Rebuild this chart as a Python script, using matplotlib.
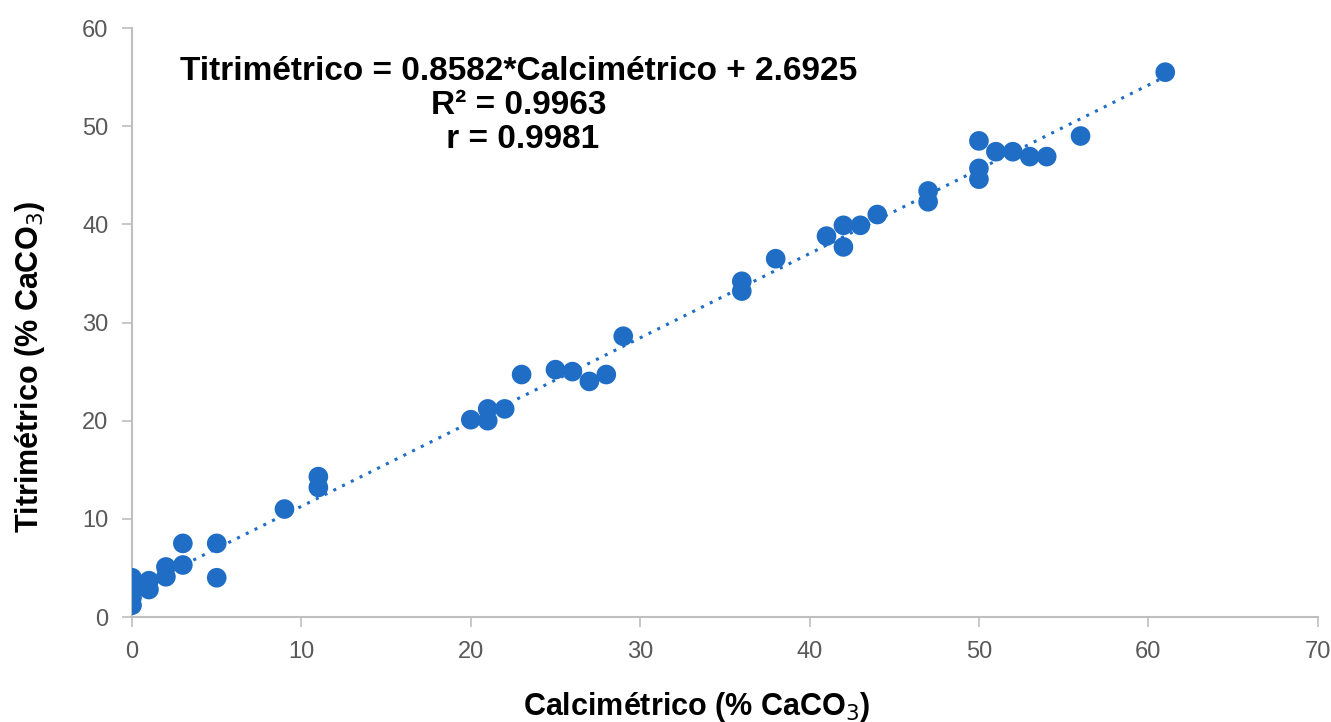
import numpy as np
import matplotlib.pyplot as plt

plt.rcParams['font.family'] = ['Liberation Sans', 'DejaVu Sans']

# datos
calcimetrico = [0, 0, 0, 0, 1, 1, 2, 2, 3, 3, 5, 5, 9, 11, 11,
                20, 21, 21, 22, 23, 25, 26, 27, 28, 29,
                36, 36, 38, 41, 42, 42, 43, 44, 47, 47,
                50, 50, 50, 51, 52, 53, 54, 56, 61]
titrimetrico = [1.2, 2.0, 3.0, 4.0, 2.8, 3.7, 4.1, 5.1, 5.3, 7.5, 7.5, 4.0, 11.0, 13.2, 14.3,
                20.1, 20.0, 21.2, 21.2, 24.7, 25.2, 25.0, 24.0, 24.7, 28.6,
                33.2, 34.2, 36.5, 38.8, 37.7, 39.9, 39.9, 41.0, 42.3, 43.4,
                48.5, 45.7, 44.6, 47.4, 47.4, 46.9, 46.9, 49.0, 55.5]
pendiente = 0.8582
intercepto = 2.6925

fig = plt.figure(figsize=(13.31, 7.22), dpi=100)
ax = fig.add_axes([0.0992, 0.1454, 0.8908, 0.8158])

xl = np.array([0, 61])
ax.plot(xl, pendiente * xl + intercepto, linestyle=(0, (1, 2.2)), color='#1f6dc5',
        linewidth=2.2, zorder=2)
ax.scatter(calcimetrico, titrimetrico, s=200, color='#1f6dc5', edgecolors='none', zorder=3)

ax.set_xlim(0, 70)
ax.set_ylim(0, 60)
ax.set_xticks(range(0, 71, 10))
ax.set_yticks(range(0, 61, 10))
for s in ['top', 'right']:
    ax.spines[s].set_visible(False)
for s in ['left', 'bottom']:
    ax.spines[s].set_color('#bfbfbf')
    ax.spines[s].set_linewidth(1.5)
ax.tick_params(colors='#bfbfbf', labelcolor='#595959', labelsize=17, length=7, width=1.2, pad=10)

ax.set_xlabel('Calcimétrico (% CaCO$_3$)', fontsize=22, fontweight='bold', va='baseline')
ax.set_ylabel('Titrimétrico (% CaCO$_3$)', fontsize=22, fontweight='bold')
ax.xaxis.set_label_coords(0.476, -0.166)
ax.yaxis.set_label_coords(-0.072, 0.424)

ax.text(0.326, 0.953, 'Titrimétrico = 0.8582*Calcimétrico + 2.6925\nR² = 0.9963\n r = 0.9981',
        transform=ax.transAxes, ha='center', va='top', fontsize=24, fontweight='bold',
        linespacing=1.14, multialignment='center')

fig.savefig('out.png', dpi=100)
